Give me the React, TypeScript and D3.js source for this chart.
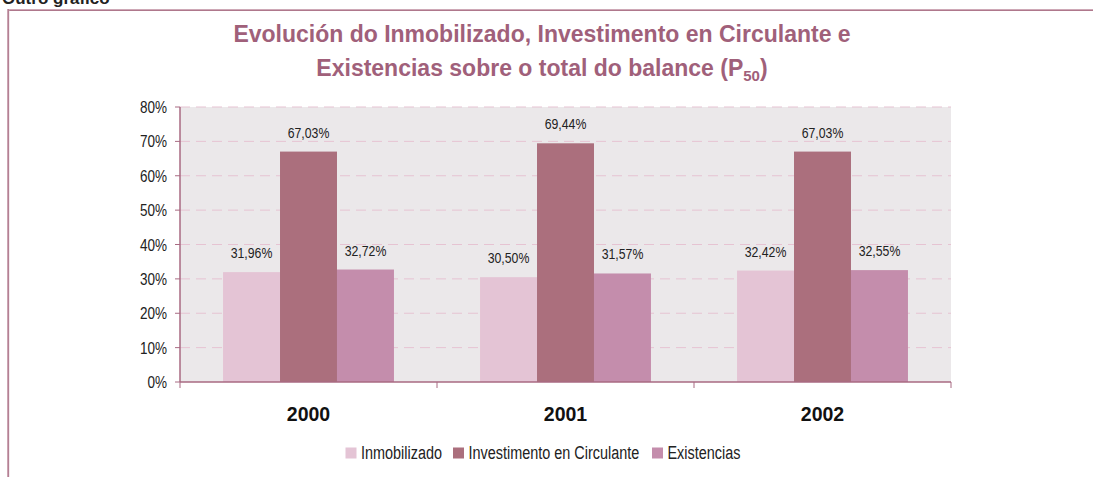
import React from "react";
import * as d3 from "d3";

const categories = ["2000", "2001", "2002"];
const seriesNames = ["Inmobilizado", "Investimento en Circulante", "Existencias"];
const inmobilizado = [31.96, 30.5, 32.42];
const investimento = [67.03, 69.44, 67.03];
const existencias = [32.72, 31.57, 32.55];
const yTicks = [0, 10, 20, 30, 40, 50, 60, 70, 80];
const colors = ["#e4c4d5", "#ab6f7d", "#c48dac"];

const fmt = (v: number) => v.toFixed(2).replace(".", ",") + "%";

function NText(props: { x: number; y: number; size: number; anchor?: string; children: React.ReactNode }) {
  const { x, y, size, anchor, children } = props;
  return (
    <text transform={`translate(${x},${y}) scale(0.82,1)`} textAnchor={anchor || "start"}
      fontSize={size} fill="#222">{children}</text>
  );
}

export default function App() {
  const W = 1093, H = 477;
  const x0 = 180, x1 = 951, yTop = 107, yBot = 382;
  const series = [inmobilizado, investimento, existencias];
  const xBand = d3.scaleBand<string>().domain(categories).range([x0, x1]).padding(0);
  const bw = xBand.bandwidth();
  const inner = d3.scaleBand<number>().domain([0, 1, 2]).range([bw * 0.1675, bw * 0.8325]).padding(0);
  const y = d3.scaleLinear().domain([0, 80]).range([yBot, yTop]);
  const font = "'Liberation Sans', Arial, sans-serif";
  const legendX = [345.5, 453, 652];

  return (
    <svg width={W} height={H} style={{ position: "absolute", left: 0, top: 0, background: "#fff" }} fontFamily={font}>
      <text x={2} y={4} fontSize={17} fontWeight="bold" fill="#222">Outro gráfico</text>
      <line x1={8} y1={10} x2={W} y2={10} stroke="#d9b8c5" strokeWidth={2.2} />
      <line x1={8} y1={10.3} x2={W} y2={10.3} stroke="#a4687e" strokeWidth={1} />
      <line x1={8.2} y1={9} x2={8.2} y2={H} stroke="#d9b8c5" strokeWidth={2.2} />
      <line x1={8.2} y1={9} x2={8.2} y2={H} stroke="#a4687e" strokeWidth={1} />

      <text x={542} y={42} textAnchor="middle" fontSize={23} fontWeight="bold" fill="#a0607a">
        Evolución do Inmobilizado, Investimento en Circulante e
      </text>
      <text x={542} y={76} textAnchor="middle" fontSize={23} fontWeight="bold" fill="#a0607a">
        Existencias sobre o total do balance (P<tspan fontSize={15} dy={5}>50</tspan><tspan dy={-5}>)</tspan>
      </text>

      <rect x={x0} y={yTop} width={x1 - x0} height={yBot - yTop} fill="#ebe8ea" />
      {yTicks.filter((t) => t > 0).map((t) => (
        <line key={t} x1={x0} x2={x1} y1={y(t)} y2={y(t)} stroke="#e6c3d2" strokeWidth={1} strokeDasharray="10,6" />
      ))}

      {categories.map((c, i) => (
        <g key={c}>
          {series.map((s, k) => (
            <rect key={k} x={(xBand(c) as number) + (inner(k) as number)} y={y(s[i])}
              width={inner.bandwidth()} height={yBot - y(s[i])} fill={colors[k]} />
          ))}
          {series.map((s, k) => (
            <NText key={"l" + k} x={(xBand(c) as number) + (inner(k) as number) + inner.bandwidth() / 2}
              y={y(s[i]) - 14} anchor="middle" size={15}>{fmt(s[i])}</NText>
          ))}
          <text x={(xBand(c) as number) + bw / 2} y={421} textAnchor="middle" fontSize={19.5} fontWeight="bold" fill="#111">{c}</text>
        </g>
      ))}

      <line x1={x0} x2={x0} y1={yTop} y2={yBot} stroke="#a86a82" strokeWidth={1.5} />
      <line x1={x0} x2={x1} y1={yBot} y2={yBot} stroke="#a86a82" strokeWidth={1.5} />
      {yTicks.map((t) => (
        <g key={t}>
          <line x1={x0 - 5} x2={x0} y1={y(t)} y2={y(t)} stroke="#a86a82" strokeWidth={1} />
          <NText x={167} y={y(t) + 6} anchor="end" size={16.5}>{t}%</NText>
        </g>
      ))}
      {[...categories.map((c) => xBand(c) as number), x1].map((xv, i) => (
        <line key={i} x1={xv} x2={xv} y1={yBot} y2={yBot + 6} stroke="#a86a82" strokeWidth={1} />
      ))}

      {seriesNames.map((n, k) => (
        <g key={n}>
          <rect x={legendX[k]} y={447.5} width={11} height={11} fill={colors[k]} />
          <NText x={legendX[k] + 15.5} y={459} size={17.6}>{n}</NText>
        </g>
      ))}
    </svg>
  );
}
